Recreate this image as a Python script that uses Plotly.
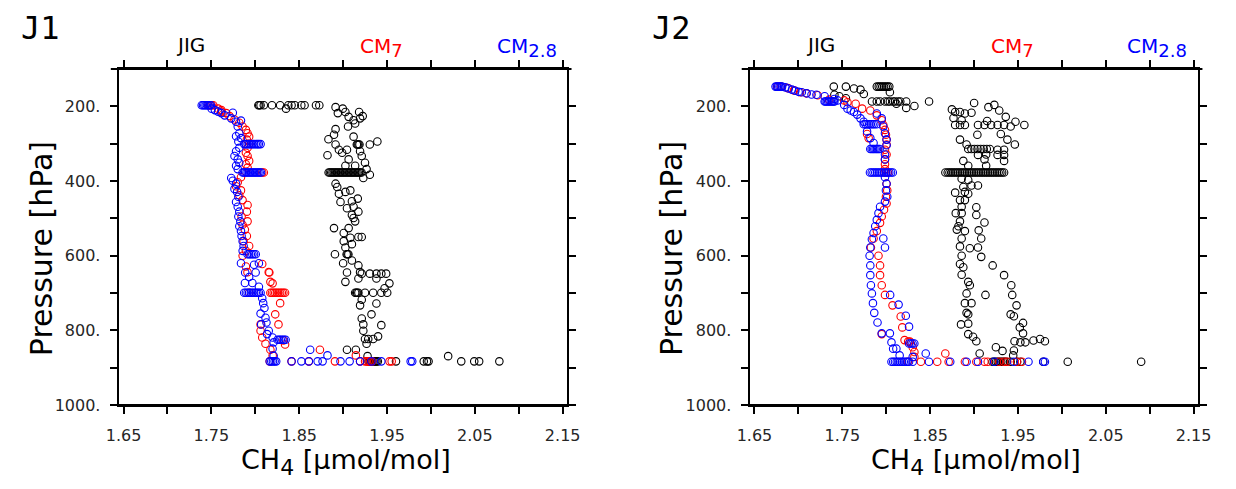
import plotly.graph_objects as go

# ---------------- data (CH4 in umol/mol, pressure in hPa) ----------------
x_ticks = [1.65, 1.70, 1.75, 1.80, 1.85, 1.90, 1.95, 2.00, 2.05, 2.10, 2.15]
x_ticktext = ["1.65", "", "1.75", "", "1.85", "", "1.95", "", "2.05", "", "2.15"]
y_ticks = [200, 300, 400, 500, 600, 700, 800, 900, 1000]
y_ticktext = ["200.", "", "400.", "", "600.", "", "800.", "", "1000."]

# ---- J1 ----
j1_jig = [
    (1.8035, 197), (1.8045, 197), (1.8060, 197), (1.8097, 197), (1.8190, 197), (1.8283, 197),
    (1.8376, 197), (1.8413, 197), (1.8450, 197), (1.8524, 197), (1.8561, 197), (1.8691, 197),
    (1.8729, 197), (1.8350, 206),
    (1.8914, 202), (1.8940, 218), (1.8996, 206), (1.9026, 215), (1.9063, 228), (1.9119, 237),
    (1.9137, 246), (1.9182, 215), (1.9223, 226), (1.9193, 232), (1.9056, 254), (1.8914, 261),
    (1.8896, 276), (1.8833, 288), (1.9119, 281), (1.8914, 302), (1.8952, 316), (1.8989, 324),
    (1.8822, 331), (1.9044, 316), (1.9156, 302), (1.9165, 302), (1.9175, 302), (1.9186, 302),
    (1.9304, 302), (1.9390, 294), (1.9193, 320), (1.9212, 333), (1.9249, 351), (1.9267, 368),
    (1.9026, 359), (1.9063, 342), (1.9137, 359), (1.9304, 383), (1.9230, 392),
    (1.8835, 377), (1.8850, 377), (1.8865, 377), (1.8880, 377), (1.8895, 377), (1.8910, 377),
    (1.8925, 377), (1.8940, 377), (1.8955, 377), (1.8970, 377), (1.8985, 377), (1.9000, 377),
    (1.9015, 377), (1.9030, 377), (1.9045, 377), (1.9060, 377), (1.9075, 377), (1.9090, 377),
    (1.9105, 377), (1.9120, 377), (1.9135, 377), (1.9150, 377), (1.9165, 377), (1.9180, 377),
    (1.9195, 377), (1.9210, 377),
    (1.8914, 407), (1.8933, 416), (1.9026, 429), (1.9082, 425), (1.8952, 434), (1.8970, 456),
    (1.9100, 454), (1.9167, 447), (1.9044, 473), (1.9119, 469), (1.9174, 482), (1.9100, 491),
    (1.9119, 499), (1.9137, 508), (1.9063, 526), (1.8896, 526), (1.9007, 539), (1.9082, 552),
    (1.9174, 550), (1.9212, 550), (1.9007, 561), (1.9100, 569), (1.9026, 578), (1.9040, 596),
    (1.9050, 596), (1.9060, 596), (1.8907, 596), (1.9100, 613), (1.9000, 620), (1.9174, 626),
    (1.9193, 644), (1.9044, 645), (1.9212, 648), (1.9304, 648), (1.9379, 648), (1.9435, 648),
    (1.9490, 648), (1.9379, 661), (1.9527, 674), (1.9026, 670), (1.9174, 661), (1.9472, 687),
    (1.9137, 699), (1.9150, 699), (1.9160, 699), (1.9174, 699), (1.9249, 699), (1.9342, 699),
    (1.9435, 699), (1.9502, 699), (1.9212, 718), (1.9193, 733), (1.9379, 728), (1.9323, 757),
    (1.9212, 768), (1.9230, 784), (1.9435, 786), (1.9230, 801), (1.9249, 823), (1.9286, 823),
    (1.9342, 823), (1.9398, 816), (1.9267, 836), (1.9044, 852), (1.9145, 852), (1.9278, 869),
    (2.0196, 869),
    (1.9290, 883), (1.9305, 883), (1.9320, 883), (1.9335, 883), (1.9350, 883), (1.9365, 883),
    (1.9380, 883), (1.9395, 883), (1.9602, 883), (1.9918, 883), (1.9955, 883), (1.9973, 883),
    (2.0345, 883), (2.0493, 883), (2.0549, 883), (2.0779, 883),
]

j1_cm7 = [
    (1.7465, 197), (1.7484, 197), (1.7503, 197), (1.7522, 197), (1.7577, 206), (1.7614, 210),
    (1.7614, 214), (1.7670, 218), (1.7707, 226), (1.7763, 235), (1.7818, 244), (1.7855, 254),
    (1.7893, 263), (1.7912, 272), (1.7930, 281), (1.7904, 289), (1.7930, 300), (1.7912, 311),
    (1.7893, 324), (1.7912, 333), (1.7930, 346), (1.7893, 355), (1.7912, 364),
    (1.8079, 377), (1.8097, 377),
    (1.7837, 390), (1.7800, 403), (1.7781, 414), (1.7837, 425), (1.7818, 438), (1.7855, 451),
    (1.7912, 464), (1.7904, 482), (1.7844, 495), (1.7912, 508), (1.7855, 517), (1.7881, 530),
    (1.7904, 547), (1.7867, 561), (1.7930, 574), (1.7893, 587), (1.7856, 600), (1.8079, 622),
    (1.7893, 629), (1.7911, 644), (1.8153, 644), (1.8160, 645), (1.8172, 670), (1.8197, 674),
    (1.7930, 699), (1.8172, 699), (1.8190, 699), (1.8209, 699), (1.8227, 699), (1.8246, 699),
    (1.8264, 699), (1.8283, 699), (1.8302, 699), (1.8320, 699), (1.8339, 699),
    (1.8283, 727), (1.8227, 757), (1.8264, 784), (1.8060, 784), (1.8060, 801), (1.8079, 819),
    (1.8320, 827), (1.8339, 838), (1.8116, 836), (1.8172, 852), (1.8198, 867), (1.8736, 852),
    (1.9145, 867),
    (1.8164, 883), (1.8413, 883), (1.8610, 883), (1.8907, 883), (1.9193, 883), (1.9250, 883),
    (1.9270, 883), (1.9290, 883), (1.9310, 883), (1.9330, 883), (1.9528, 883), (1.9553, 883),
]

j1_cm28 = [
    (1.7390, 197), (1.7405, 197), (1.7420, 197), (1.7435, 197), (1.7450, 197), (1.7465, 197),
    (1.7480, 197), (1.7495, 197),
    (1.7503, 206), (1.7540, 210), (1.7577, 214), (1.7614, 218), (1.7744, 217), (1.7651, 224),
    (1.7726, 232), (1.7781, 241), (1.7837, 238), (1.7800, 254), (1.7818, 272), (1.7781, 280),
    (1.7837, 285), (1.7807, 294),
    (1.7874, 301), (1.7893, 301), (1.7912, 301), (1.7930, 301), (1.7949, 301), (1.7967, 301),
    (1.7986, 301), (1.8005, 301), (1.8023, 301), (1.8040, 301), (1.8060, 301),
    (1.7818, 311), (1.7781, 320), (1.7763, 333), (1.7800, 342), (1.7818, 351), (1.7781, 359),
    (1.7800, 368),
    (1.7855, 377), (1.7870, 377), (1.7885, 377), (1.7900, 377), (1.7915, 377), (1.7930, 377),
    (1.7945, 377), (1.7960, 377), (1.7975, 377), (1.7990, 377), (1.8005, 377), (1.8020, 377),
    (1.8035, 377), (1.8050, 377), (1.8065, 377),
    (1.7726, 392), (1.7744, 399), (1.7781, 407), (1.7763, 421), (1.7793, 429), (1.7807, 442),
    (1.7781, 456), (1.7800, 469), (1.7818, 482), (1.7807, 495), (1.7830, 508), (1.7818, 521),
    (1.7837, 534), (1.7844, 547), (1.7856, 561), (1.7867, 574), (1.7856, 587),
    (1.7912, 596), (1.7930, 596), (1.7949, 596), (1.7967, 596), (1.7986, 596), (1.8005, 596),
    (1.7837, 620), (1.7986, 624), (1.8041, 620), (1.7885, 645), (1.8004, 645), (1.7930, 657),
    (1.7882, 673), (1.7967, 673), (1.8041, 683),
    (1.7874, 699), (1.7893, 699), (1.7912, 699), (1.7930, 699), (1.7949, 699), (1.7967, 699),
    (1.7986, 699), (1.8005, 699), (1.8023, 699), (1.8041, 699), (1.8060, 699),
    (1.8079, 714), (1.8090, 727), (1.8104, 740), (1.8060, 755), (1.8116, 766), (1.8127, 779),
    (1.8067, 784), (1.8153, 801), (1.8134, 810), (1.8197, 819),
    (1.8253, 825), (1.8271, 825), (1.8290, 825), (1.8308, 825), (1.8327, 825), (1.8345, 825),
    (1.8209, 832), (1.8197, 849), (1.8209, 868), (1.8625, 852), (1.8822, 867),
    (1.8164, 883), (1.8182, 883), (1.8201, 883), (1.8220, 883), (1.8238, 883), (1.8413, 883),
    (1.8525, 883), (1.8610, 883), (1.8710, 883), (1.8766, 883), (1.8970, 883), (1.9074, 883),
    (1.9193, 883), (1.9323, 883), (1.9435, 883), (1.9769, 883), (1.9787, 883),
]

# ---- J2 ----
j2_jig = [
    (1.7893, 147), (1.7915, 147), (1.7935, 147), (1.7955, 147), (1.7975, 147), (1.7995, 147),
    (1.8015, 147), (1.8035, 147), (1.8042, 162), (1.7403, 147), (1.7541, 147), (1.7633, 152),
    (1.7707, 155), (1.7745, 167), (1.7410, 169), (1.7466, 173), (1.7541, 178),
    (1.7838, 187), (1.7893, 187), (1.7930, 187), (1.7986, 187), (1.8020, 187), (1.8042, 187),
    (1.8079, 187), (1.8100, 187), (1.8135, 187), (1.8160, 187), (1.8228, 187), (1.8116, 193),
    (1.8321, 199), (1.8228, 204), (1.8488, 187),
    (1.8748, 208), (1.8785, 215), (1.8840, 215), (1.8896, 219), (1.8971, 217), (1.9001, 191),
    (1.9164, 202), (1.9231, 196), (1.9287, 211), (1.9361, 228), (1.8766, 231), (1.8859, 237),
    (1.8785, 250), (1.8840, 250), (1.8896, 250), (1.9045, 250), (1.9119, 250), (1.9194, 250),
    (1.9268, 250), (1.9342, 250), (1.9417, 254), (1.9472, 241), (1.9573, 250), (1.9149, 239),
    (1.9038, 276), (1.8840, 289), (1.8915, 302), (1.9305, 274), (1.9380, 289), (1.9465, 302),
    (1.8934, 314), (1.8970, 314), (1.9005, 314), (1.9040, 314), (1.9075, 314), (1.9110, 314),
    (1.9145, 314), (1.9180, 314), (1.9268, 316), (1.9342, 316), (1.9342, 330), (1.9045, 330),
    (1.9138, 329), (1.9268, 330), (1.9119, 342), (1.9342, 346), (1.8878, 346), (1.8934, 359),
    (1.9138, 359),
    (1.8674, 377), (1.8700, 377), (1.8720, 377), (1.8740, 377), (1.8760, 377), (1.8780, 377),
    (1.8800, 377), (1.8820, 377), (1.8840, 377), (1.8860, 377), (1.8880, 377), (1.8900, 377),
    (1.8920, 377), (1.8940, 377), (1.8960, 377), (1.8980, 377), (1.9000, 377), (1.9020, 377),
    (1.9040, 377), (1.9060, 377), (1.9080, 377), (1.9100, 377), (1.9120, 377), (1.9140, 377),
    (1.9160, 377), (1.9180, 377), (1.9200, 377), (1.9220, 377), (1.9240, 377), (1.9260, 377),
    (1.9280, 377), (1.9300, 377), (1.9320, 377), (1.9342, 377),
    (1.8859, 394), (1.8934, 397), (1.9045, 412), (1.8971, 412), (1.8878, 416), (1.8785, 431),
    (1.8896, 429), (1.8934, 434), (1.8840, 451), (1.8896, 451), (1.9026, 470), (1.8859, 469),
    (1.8792, 486), (1.8859, 486), (1.9026, 491), (1.8840, 508), (1.9119, 511), (1.8822, 521),
    (1.8896, 534), (1.8804, 530), (1.9053, 532), (1.8859, 554), (1.9082, 554), (1.8840, 575),
    (1.8952, 580), (1.9045, 578), (1.8859, 600), (1.9082, 603), (1.8840, 622), (1.8878, 631),
    (1.9212, 626), (1.8859, 651), (1.9342, 652), (1.8934, 670), (1.8952, 679), (1.9424, 679),
    (1.8915, 701), (1.9130, 705), (1.9435, 705), (1.8896, 727), (1.8971, 727), (1.9484, 733),
    (1.8915, 753), (1.8934, 757), (1.9417, 757), (1.9454, 762), (1.8852, 784), (1.8934, 782),
    (1.9558, 780), (1.9521, 792), (1.8934, 810), (1.8989, 817), (1.9558, 808), (1.9026, 829),
    (1.9461, 829), (1.9528, 832), (1.9584, 832), (1.9677, 827), (1.9751, 823), (1.9807, 829),
    (1.9249, 845), (1.9324, 855), (1.9454, 854), (1.9064, 862), (1.9446, 867),
    (1.9210, 884), (1.9230, 884), (1.9250, 884), (1.9270, 884), (1.9290, 884), (1.9310, 884),
    (1.9330, 884), (1.9350, 884), (1.9370, 884), (1.9417, 884), (1.9490, 884), (1.9528, 884),
    (1.9788, 884), (2.0067, 884), (2.0903, 884),
]

j2_cm7 = [
    (1.6760, 147), (1.6800, 147), (1.6880, 151), (1.6950, 157), (1.7020, 162), (1.7090, 165),
    (1.7220, 170), (1.7350, 182), (1.7522, 184), (1.7559, 189), (1.7652, 193), (1.7726, 206),
    (1.7819, 211), (1.7893, 224), (1.7949, 237), (1.7967, 250), (1.7986, 263), (1.7997, 276),
    (1.8004, 289), (1.8004, 302), (1.7986, 316), (1.8004, 329), (1.7986, 342), (1.7986, 355),
    (1.7986, 368), (1.7782, 274), (1.7800, 285),
    (1.7980, 377), (1.8000, 377), (1.8020, 377),
    (1.8004, 407), (1.8012, 425), (1.7997, 442), (1.8004, 460), (1.7975, 477), (1.7949, 495),
    (1.7930, 512), (1.7893, 534), (1.7856, 554), (1.7826, 578), (1.7912, 600), (1.7930, 626),
    (1.7930, 652), (1.7949, 679), (1.7986, 705), (1.8072, 733), (1.8165, 763), (1.8183, 792),
    (1.7949, 810), (1.8209, 826), (1.8250, 830), (1.8270, 830), (1.8302, 845), (1.8321, 858),
    (1.8321, 871), (1.8673, 862),
    (1.8246, 884), (1.8395, 884), (1.8581, 884), (1.8711, 884), (1.8896, 884), (1.9026, 884),
    (1.9119, 884), (1.9156, 884), (1.9286, 884), (1.9342, 884), (1.9379, 884), (1.9490, 884),
    (1.9546, 884),
]

j2_cm28 = [
    (1.6740, 147), (1.6755, 147), (1.6770, 147), (1.6785, 147), (1.6800, 147), (1.6815, 147),
    (1.6853, 149), (1.6890, 152), (1.6927, 155), (1.6965, 158), (1.7002, 161), (1.7039, 162),
    (1.7095, 165), (1.7150, 168), (1.7206, 169), (1.7299, 173),
    (1.7299, 187), (1.7310, 187), (1.7325, 187), (1.7340, 187), (1.7355, 187), (1.7370, 187),
    (1.7385, 187), (1.7400, 187), (1.7410, 187),
    (1.7410, 180), (1.7447, 184), (1.7522, 196), (1.7559, 206), (1.7596, 211), (1.7633, 215),
    (1.7670, 222), (1.7707, 232), (1.7744, 241),
    (1.7744, 248), (1.7765, 248), (1.7785, 248), (1.7805, 248), (1.7825, 248), (1.7845, 248),
    (1.7865, 248), (1.7890, 248),
    (1.7782, 267), (1.7819, 285), (1.7856, 298), (1.7893, 219), (1.7949, 232), (1.7967, 254),
    (1.7986, 272), (1.8004, 289), (1.8004, 304), (1.7986, 329), (1.7986, 342),
    (1.7819, 314), (1.7835, 314), (1.7850, 314), (1.7865, 314), (1.7880, 314), (1.7895, 314),
    (1.7910, 314), (1.7925, 314),
    (1.7815, 377), (1.7835, 377), (1.7855, 377), (1.7875, 377), (1.7895, 377), (1.7915, 377),
    (1.7935, 377), (1.7955, 377), (1.7975, 377), (1.7995, 377), (1.8015, 377), (1.8035, 377),
    (1.8055, 377), (1.8075, 377),
    (1.7986, 390), (1.8004, 407), (1.7997, 425), (1.8012, 442), (1.7986, 455), (1.7930, 469),
    (1.7912, 486), (1.7893, 504), (1.7875, 521), (1.7856, 539), (1.7837, 556), (1.7819, 578),
    (1.7811, 600), (1.7819, 626), (1.7819, 652), (1.7826, 679), (1.7837, 701), (1.7849, 727),
    (1.7864, 753), (1.7901, 779), (1.7949, 808), (1.8042, 808), (1.8060, 832), (1.8116, 849),
    (1.8153, 867), (1.7967, 554), (1.7986, 578), (1.8045, 705), (1.8141, 731), (1.8223, 761),
    (1.8260, 790), (1.8260, 835), (1.8280, 835), (1.8300, 835), (1.8320, 835), (1.8079, 849),
    (1.8302, 871), (1.8450, 862),
    (1.8060, 884), (1.8080, 884), (1.8100, 884), (1.8120, 884), (1.8140, 884), (1.8160, 884),
    (1.8180, 884), (1.8200, 884), (1.8220, 884), (1.8240, 884), (1.8260, 884), (1.8302, 884),
    (1.8487, 884), (1.8729, 884), (1.8915, 884), (1.9045, 884), (1.9230, 884), (1.9453, 884),
    (1.9620, 884), (1.9788, 884), (1.9807, 884),
]

panels = [
    ("J1", j1_jig, j1_cm7, j1_cm28),
    ("J2", j2_jig, j2_cm7, j2_cm28),
]
series_colors = {"JIG": "#000000", "CM7": "#ff0000", "CM2.8": "#0000ff"}

# ---------------- figure ----------------
W, H = 1236, 489
fig = go.Figure()

frame_left = [108, 753]
frame_w = 458
x_domains = [[l / W, (l + frame_w) / W] for l in frame_left]
y_domain = [1 - 413.5 / H, 1 - 70.5 / H]

font_main = "DejaVu Sans"

for i, (name, jig, cm7, cm28) in enumerate(panels):
    xa = "x" if i == 0 else "x2"
    ya = "y" if i == 0 else "y2"
    for label, data in (("JIG", jig), ("CM7", cm7), ("CM2.8", cm28)):
        xs = [d[0] for d in data]
        ps = [d[1] for d in data]
        fig.add_trace(go.Scatter(
            x=xs, y=ps, mode="markers", name=label, showlegend=False,
            xaxis=xa, yaxis=ya, hoverinfo="skip",
            marker=dict(symbol="circle-open", size=7.5, color=series_colors[label],
                        line=dict(width=1.1, color=series_colors[label])),
        ))

axis_common = dict(showline=True, linecolor="black", linewidth=2, mirror="ticks",
                   ticks="outside", ticklen=7, tickwidth=1.6, tickcolor="black",
                   showgrid=False, zeroline=False,
                   tickfont=dict(family=font_main, size=16, color="#262626"))

for i in range(2):
    sfx = "" if i == 0 else "2"
    fig.update_layout(**{
        "xaxis" + sfx: dict(axis_common, domain=x_domains[i], range=[1.6444, 2.1545],
                            tickvals=x_ticks, ticktext=x_ticktext,
                            anchor="y" + sfx, ticklabelstandoff=8),
        "yaxis" + sfx: dict(axis_common, domain=y_domain, range=[1000, 100],
                            tickvals=y_ticks, ticktext=y_ticktext,
                            anchor="x" + sfx, ticklabelstandoff=6),
    })

annotations = []
def px_ann(text, x, y, size, color="black", family=font_main, angle=0):
    annotations.append(dict(text=text, x=x / W, y=1 - y / H, xref="paper", yref="paper",
                            showarrow=False, xanchor="center", yanchor="middle",
                            textangle=angle,
                            font=dict(family=family, size=size, color=color)))

shapes = []
for i, (name, *_rest) in enumerate(panels):
    ox = frame_left[i]
    px_ann(name, ox - 80, 29, 32, family="DejaVu Sans Mono")
    px_ann("JIG", ox + 73, 45.5, 20, "black")
    px_ann("CM<sub><span style='font-size:18px'>7</span></sub>", ox + 269, 48, 20, "#ff0000")
    px_ann("CM<sub><span style='font-size:18px'>2.8</span></sub>", ox + 417, 48, 20, "#0000ff")
    px_ann("Pressure [hPa]", ox - 79, 254, 30, angle=-90)
    px_ann("CH<sub><span style='font-size:22px'>4</span></sub> [µmol/mol]", ox + 232, 472, 27)
    # axis lines run slightly past the frame corners, as in the original
    for yy in (70.5, 413.5):
        shapes.append(dict(type="line", xref="paper", yref="paper",
                           x0=(ox - 8) / W, x1=(ox + frame_w + 5) / W,
                           y0=1 - yy / H, y1=1 - yy / H,
                           line=dict(color="black", width=2)))

fig.update_layout(width=W, height=H, margin=dict(l=0, r=0, t=0, b=0),
                  paper_bgcolor="white", plot_bgcolor="white", hovermode=False,
                  annotations=annotations, shapes=shapes, showlegend=False)

fig.write_html("out.html", config={"displayModeBar": False},
               post_script="document.body.style.margin='0';document.body.style.overflow='hidden';")
